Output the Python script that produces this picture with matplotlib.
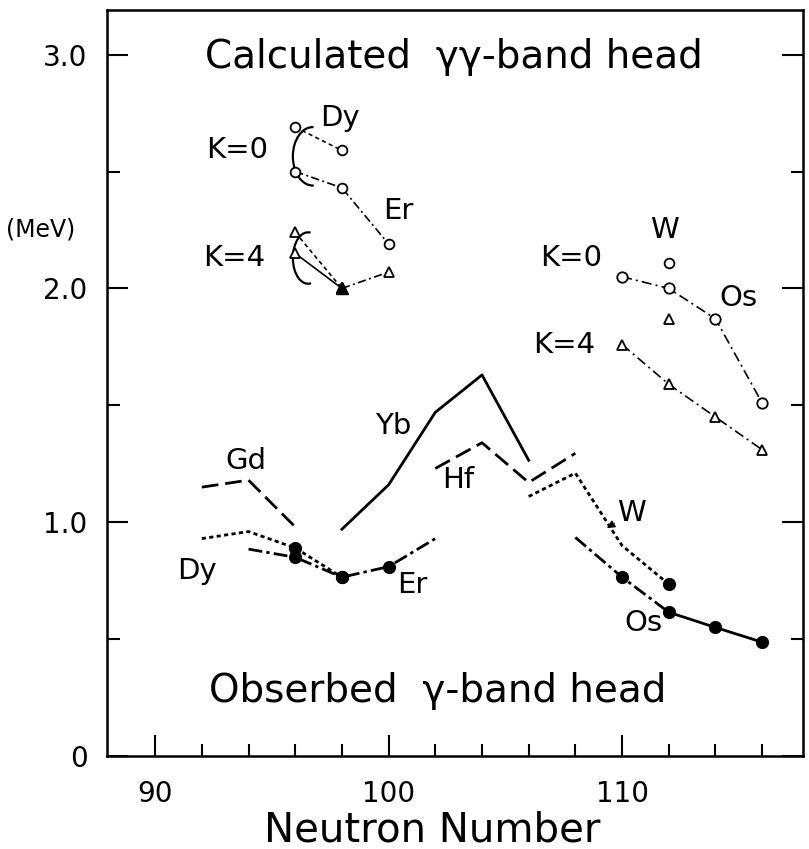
import matplotlib
matplotlib.use("Agg")
import matplotlib.pyplot as plt
from matplotlib.patches import Arc

plt.rcParams['font.family'] = ['DejaVu Sans']

# ---- observed gamma-band heads (MeV) vs neutron number ----
gd_n = [92, 94, 96]
gd_e = [1.15, 1.18, 0.98]
dy_n = [92, 94, 96, 98]
dy_e = [0.93, 0.96, 0.89, 0.765]
er_n = [94, 96, 98, 100, 102]
er_e = [0.885, 0.85, 0.765, 0.81, 0.93]
yb_n = [98, 100, 102, 104, 106]
yb_e = [0.97, 1.16, 1.47, 1.63, 1.265]
hf_n = [102, 104, 106, 108]
hf_e = [1.23, 1.34, 1.17, 1.295]
w_n = [106, 108, 110, 112]
w_e = [1.11, 1.21, 0.90, 0.735]
os_n = [108, 110, 112, 114, 116]
os_e = [0.935, 0.765, 0.615, 0.55, 0.487]

# ---- calculated gamma-gamma band heads (MeV) ----
dy_calc_n = [96, 98]
dy_k0 = [2.69, 2.59]
dy_k4 = [2.24, 2.00]
er_calc_n = [96, 98, 100]
er_k0 = [2.50, 2.43, 2.19]
er_k4 = [2.15, 2.00, 2.07]
os_calc_n = [110, 112, 114, 116]
os_k0 = [2.05, 2.00, 1.87, 1.51]
os_k4 = [1.76, 1.59, 1.45, 1.31]
w_calc_n = [112]
w_k0 = [2.11]
w_k4 = [1.87]

x_major = [90, 100, 110]
x_labels = ["90", "100", "110"]
y_major = [0, 1.0, 2.0, 3.0]
y_labels = ["0", "1.0", "2.0", "3.0"]

fig = plt.figure(figsize=(8.09, 8.49), dpi=100)
ax = fig.add_axes([0.1323, 0.1095, 0.8603, 0.8785])
ax.set_xlim(87.94, 117.75)
ax.set_ylim(0, 3.19)

k = 'black'
lw_obs = 2.0
lw_calc = 1.2

# observed curves
ax.plot(gd_n, gd_e, color=k, lw=lw_obs, dashes=(6, 2.5))
ax.plot(dy_n, dy_e, color=k, lw=lw_obs, dashes=(1.5, 1.2))
ax.plot(er_n, er_e, color=k, lw=lw_obs, dashes=(5, 1.5, 1.2, 1.5))
ax.plot(yb_n, yb_e, color=k, lw=lw_obs)
ax.plot(hf_n, hf_e, color=k, lw=lw_obs, dashes=(6, 2.5))
ax.plot(w_n, w_e, color=k, lw=lw_obs, dashes=(1.5, 1.2))
ax.plot(os_n[:3], os_e[:3], color=k, lw=lw_obs, dashes=(5, 1.5, 1.2, 1.5))
ax.plot(os_n[2:], os_e[2:], color=k, lw=lw_obs)

# filled markers on measured points
ax.plot(dy_n[2:], dy_e[2:], 'o', color=k, ms=8.5, ls='none')
ax.plot(er_n[1:4], er_e[1:4], 'o', color=k, ms=8.5, ls='none')
ax.plot(w_n[3:], w_e[3:], 'o', color=k, ms=8.5, ls='none')
ax.plot(os_n[1:], os_e[1:], 'o', color=k, ms=8.5, ls='none')

# calculated curves
ax.plot(dy_calc_n, dy_k0, color=k, lw=lw_calc, dashes=(2.5, 2),
        marker='o', ms=7, mfc='white', mec=k, mew=1.3)
ax.plot(er_calc_n, er_k0, color=k, lw=lw_calc, dashes=(5, 2, 1.2, 2),
        marker='o', ms=7, mfc='white', mec=k, mew=1.3)
ax.plot(dy_calc_n, dy_k4, color=k, lw=lw_calc, dashes=(2.5, 2),
        marker='^', ms=7, mfc='white', mec=k, mew=1.3)
ax.plot(er_calc_n[:2], er_k4[:2], color=k, lw=lw_calc,
        marker='^', ms=7, mfc='white', mec=k, mew=1.3)
ax.plot(er_calc_n[1:], er_k4[1:], color=k, lw=lw_calc, dashes=(5, 2, 1.2, 2),
        marker='^', ms=7, mfc='white', mec=k, mew=1.3)
ax.plot(er_calc_n[1:2], er_k4[1:2], '^', color=k, ms=8, ls='none')

ax.plot(os_calc_n, os_k0, color=k, lw=lw_calc, dashes=(6, 2.5, 1.2, 2.5),
        marker='o', ms=7.5, mfc='white', mec=k, mew=1.3)
ax.plot(os_calc_n, os_k4, color=k, lw=lw_calc, dashes=(6, 2.5, 1.2, 2.5),
        marker='^', ms=7.5, mfc='white', mec=k, mew=1.3)
ax.plot(w_calc_n, w_k0, 'o', ms=7, mfc='white', mec=k, mew=1.3, ls='none')
ax.plot(w_calc_n, w_k4, '^', ms=7, mfc='white', mec=k, mew=1.3, ls='none')

# brackets pairing the N=96 calculated states
ax.add_patch(Arc((96.75, 2.565), 1.7, 0.25, theta1=75, theta2=290, color=k, lw=1.6))
ax.add_patch(Arc((96.55, 2.13), 1.3, 0.22, theta1=45, theta2=320, color=k, lw=1.6))

# labels
fs_lab = 21
ax.text(97.9, 2.73, "Dy", fontsize=fs_lab, ha='center', va='center')
ax.text(93.5, 2.59, "K=0", fontsize=fs_lab, ha='center', va='center')
ax.text(100.4, 2.33, "Er", fontsize=fs_lab, ha='center', va='center')
ax.text(93.4, 2.13, "K=4", fontsize=fs_lab, ha='center', va='center')
ax.text(107.8, 2.13, "K=0", fontsize=fs_lab, ha='center', va='center')
ax.text(111.8, 2.25, "W", fontsize=fs_lab, ha='center', va='center')
ax.text(115.0, 1.96, "Os", fontsize=fs_lab, ha='center', va='center')
ax.text(107.5, 1.76, "K=4", fontsize=fs_lab, ha='center', va='center')

ax.text(93.9, 1.26, "Gd", fontsize=fs_lab, ha='center', va='center')
ax.text(91.8, 0.79, "Dy", fontsize=fs_lab, ha='center', va='center')
ax.text(101.0, 0.73, "Er", fontsize=fs_lab, ha='center', va='center')
ax.text(100.2, 1.41, "Yb", fontsize=fs_lab, ha='center', va='center')
ax.text(103.0, 1.18, "Hf", fontsize=fs_lab, ha='center', va='center')
ax.text(110.9, 0.57, "Os", fontsize=fs_lab, ha='center', va='center')
ax.annotate("W", xy=(109.35, 0.975), xytext=(110.4, 1.04), fontsize=fs_lab,
            ha='center', va='center',
            arrowprops=dict(arrowstyle='-|>', color=k, lw=0.8,
                            mutation_scale=12, shrinkA=10, shrinkB=0))

ax.text(102.8, 2.99, "Calculated  γγ-band head", fontsize=28,
        ha='center', va='center')
ax.text(102.1, 0.28, "Obserbed  γ-band head", fontsize=28,
        ha='center', va='center')
ax.text(85.1, 2.25, "(MeV)", fontsize=17, ha='center', va='center', clip_on=False)

# axes styling
for s in ax.spines.values():
    s.set_linewidth(1.8)
ax.set_xticks(x_major)
ax.set_xticklabels(x_labels, fontsize=20)
ax.set_xticks(range(92, 117, 2), minor=True)
ax.set_yticks(y_major)
ax.set_yticklabels(y_labels, fontsize=20)
ax.set_yticks([0.5, 1.5, 2.5], minor=True)
ax.tick_params(which='both', direction='in', width=1.5, top=False, right=True)
ax.tick_params(axis='x', which='major', length=15, pad=17)
ax.tick_params(axis='y', which='major', length=15, pad=14)
ax.tick_params(which='minor', length=9)

# axis title, centred a little left of the frame middle
ax.set_xlabel("Neutron Number", fontsize=29)
ax.xaxis.label.set_verticalalignment('center')
ax.xaxis.set_label_coords(0.467, -0.1)

fig.savefig("out.png", dpi=100)
